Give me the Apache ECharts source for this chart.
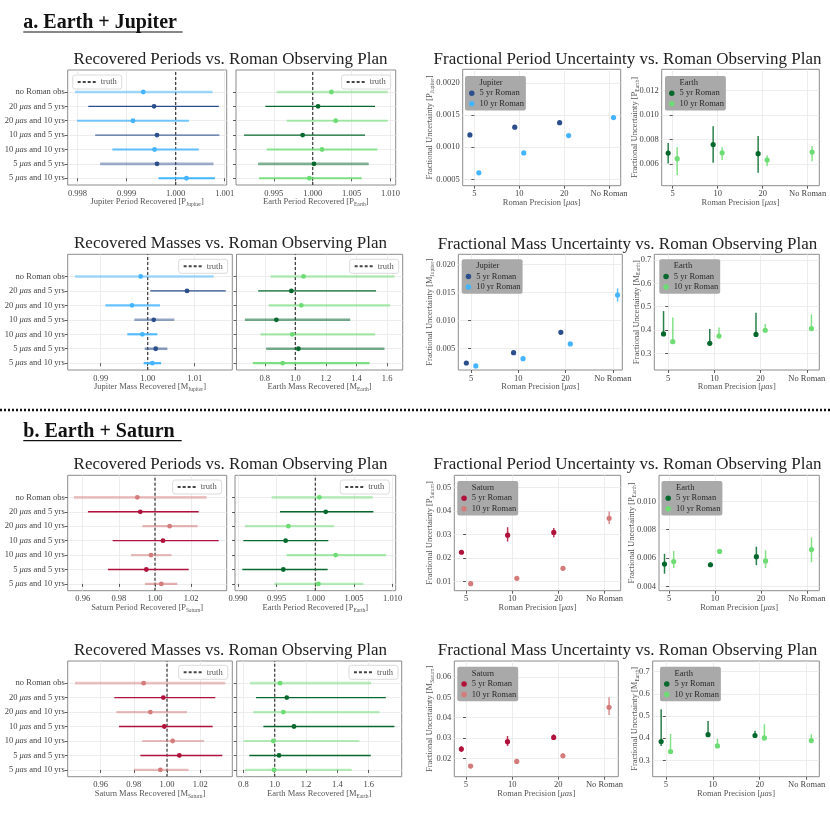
<!DOCTYPE html>
<html><head><meta charset="utf-8">
<script src="https://cdn.jsdelivr.net/npm/echarts@6/dist/echarts.min.js"></script>
<style>html,body{margin:0;padding:0;background:#fff}#c{width:830px;height:830px}</style>
</head><body><div id="c"></div>
<script>
// ---------------- DATA ----------------
const rowLabels = ['5 μas and 10 yrs','5 μas and 5 yrs','10 μas and 10 yrs','10 μas and 5 yrs','20 μas and 10 yrs','20 μas and 5 yrs','no Roman obs'];
const rowIndex = [0,1,2,3,4,5,6];
const precisionLabels = ['5','10','20','No Roman'];
const precIdx5 = [0,1,2];
const precIdx10 = [0,1,2,3];
const truthValue = 1;

// Recovered values (rows bottom -> top, same order as rowLabels)
const jupPeriodLo  = [0.99965, 0.99846, 0.99871, 0.99836, 0.99799, 0.99822, 0.99795];
const jupPeriodMid = [1.00022, 0.99962, 0.99957, 0.99962, 0.99913, 0.99956, 0.99934];
const jupPeriodHi  = [1.00080, 1.00077, 1.00047, 1.00089, 1.00027, 1.00088, 1.00075];

const earthPeriodALo  = [0.99310, 0.99297, 0.99409, 0.99117, 0.99666, 0.99391, 0.99537];
const earthPeriodAMid = [0.99957, 1.00017, 1.00120, 0.99871, 1.00296, 1.00069, 1.00240];
const earthPeriodAHi  = [1.00630, 1.00720, 1.00831, 1.00673, 1.00964, 1.00801, 1.00964];

const jupMassLo  = [0.99915, 0.99936, 0.99567, 0.99716, 0.99100, 1.00057, 0.98454];
const jupMassMid = [1.00099, 1.00170, 0.99887, 1.00128, 0.99667, 1.00837, 0.99851];
const jupMassHi  = [1.00284, 1.00418, 1.00206, 1.00567, 1.00262, 1.01660, 1.01404];

const earthMassALo  = [0.722, 0.809, 0.772, 0.670, 0.826, 0.757, 0.837];
const earthMassAMid = [0.917, 1.020, 0.980, 0.876, 1.039, 0.974, 1.054];
const earthMassAHi  = [1.485, 1.583, 1.522, 1.359, 1.620, 1.528, 1.648];

const satPeriodLo  = [0.99446, 0.97397, 0.98671, 0.97656, 0.99299, 0.96289, 0.95514];
const satPeriodMid = [1.00351, 0.99520, 0.99778, 1.00443, 1.00812, 0.99188, 0.99022];
const satPeriodHi  = [1.01237, 1.01865, 1.00923, 1.03526, 1.02363, 1.02418, 1.02861];

const earthPeriodBLo  = [0.99470, 0.99056, 0.99629, 0.99069, 0.99091, 0.99543, 0.99435];
const earthPeriodBMid = [1.00039, 0.99586, 1.00263, 0.99616, 0.99651, 1.00134, 1.00052];
const earthPeriodBHi  = [1.00621, 1.00159, 1.00914, 1.00168, 1.00241, 1.00750, 1.00741];

const satMassLo  = [0.98013, 0.98395, 0.98515, 0.97110, 0.96950, 0.96829, 0.94461];
const satMassMid = [0.99599, 1.00743, 1.00341, 0.99839, 0.98997, 0.99779, 0.98595];
const satMassHi  = [1.01304, 1.03331, 1.02228, 1.02749, 1.01204, 1.02910, 1.03512];

const earthMassBLo  = [0.809, 0.838, 0.802, 0.928, 0.862, 0.881, 0.843];
const earthMassBMid = [0.996, 1.028, 0.991, 1.123, 1.055, 1.077, 1.034];
const earthMassBHi  = [1.491, 1.613, 1.540, 1.764, 1.668, 1.709, 1.615];

// Fractional uncertainties (5 yr: 5,10,20 μas ; 10 yr: 5,10,20,No Roman)
const jupFracP5 = [0.00119, 0.00131, 0.00138];
const jupFracP5Lo = [0.00118, 0.00130, 0.00137];
const jupFracP5Hi = [0.00120, 0.00132, 0.00139];
const jupFracP10 = [0.00060, 0.00091, 0.00118, 0.00146];
const jupFracP10Lo = [0.00059, 0.00090, 0.00117, 0.00144];
const jupFracP10Hi = [0.00061, 0.00092, 0.00119, 0.00148];

const earthFracPA5 = [0.00690, 0.00759, 0.00685];
const earthFracPA5Lo = [0.00605, 0.00611, 0.00529];
const earthFracPA5Hi = [0.00772, 0.00909, 0.00829];
const earthFracPA10 = [0.00644, 0.00692, 0.00633, 0.00698];
const earthFracPA10Lo = [0.00510, 0.00633, 0.00584, 0.00622];
const earthFracPA10Hi = [0.00737, 0.00737, 0.00671, 0.00747];

const jupFracM5 = [0.00238, 0.00423, 0.00786];
const jupFracM5Lo = [0.00228, 0.00413, 0.00774];
const jupFracM5Hi = [0.00248, 0.00433, 0.00798];
const jupFracM10 = [0.00185, 0.00316, 0.00578, 0.01452];
const jupFracM10Lo = [0.00178, 0.00308, 0.00568, 0.01333];
const jupFracM10Hi = [0.00192, 0.00324, 0.00588, 0.01571];

const earthFracMA5 = [0.383, 0.343, 0.381];
const earthFracMA5Lo = [0.378, 0.340, 0.371];
const earthFracMA5Hi = [0.481, 0.404, 0.474];
const earthFracMA10 = [0.350, 0.374, 0.399, 0.406];
const earthFracMA10Lo = [0.348, 0.367, 0.390, 0.404];
const earthFracMA10Hi = [0.453, 0.411, 0.426, 0.467];

const satFracP5 = [0.02242, 0.02972, 0.03090];
const satFracP5Lo = [0.02210, 0.02700, 0.02880];
const satFracP5Hi = [0.02270, 0.03310, 0.03280];
const satFracP10 = [0.00900, 0.01130, 0.01555, 0.03690];
const satFracP10Lo = [0.00890, 0.01120, 0.01540, 0.03450];
const satFracP10Hi = [0.00910, 0.01140, 0.01570, 0.03980];

const earthFracPB5 = [0.00558, 0.00553, 0.00610];
const earthFracPB5Lo = [0.00490, 0.00540, 0.00550];
const earthFracPB5Hi = [0.00630, 0.00570, 0.00680];
const earthFracPB10 = [0.00576, 0.00647, 0.00580, 0.00660];
const earthFracPB10Lo = [0.00530, 0.00630, 0.00530, 0.00570];
const earthFracPB10Hi = [0.00650, 0.00660, 0.00655, 0.00745];

const satFracM5 = [0.02459, 0.02820, 0.03030];
const satFracM5Lo = [0.02310, 0.02610, 0.02900];
const satFracM5Hi = [0.02610, 0.03100, 0.03180];
const satFracM10 = [0.01620, 0.01850, 0.02130, 0.04510];
const satFracM10Lo = [0.01580, 0.01740, 0.02020, 0.04130];
const satFracM10Hi = [0.01660, 0.01970, 0.02250, 0.05000];

const earthFracMB5 = [0.385, 0.416, 0.412];
const earthFracMB5Lo = [0.365, 0.410, 0.405];
const earthFracMB5Hi = [0.530, 0.478, 0.433];
const earthFracMB10 = [0.340, 0.365, 0.401, 0.389];
const earthFracMB10Lo = [0.338, 0.360, 0.398, 0.386];
const earthFracMB10Hi = [0.419, 0.397, 0.463, 0.418];

// tick label values
const ticksJupP = [0.998, 0.999, 1.000, 1.001];
const ticksEarthP = [0.995, 1.000, 1.005, 1.010];
const ticksJupM = [0.99, 1.00, 1.01];
const ticksEarthM = [0.8, 1.0, 1.2, 1.4, 1.6];
const ticksSatP = [0.96, 0.98, 1.00, 1.02];
const ticksEarthPB = [0.990, 0.995, 1.000, 1.005, 1.010];
const ticksSatM = [0.96, 0.98, 1.00, 1.02];
const ticksFJupP = [0.0005, 0.0010, 0.0015, 0.0020];
const ticksFEarthPA = [0.006, 0.008, 0.010, 0.012];
const ticksFJupM = [0.005, 0.010, 0.015, 0.020];
const ticksFEarthM = [0.3, 0.4, 0.5, 0.6, 0.7];
const ticksFSatP = [0.01, 0.02, 0.03, 0.04, 0.05];
const ticksFEarthPB = [0.004, 0.006, 0.008, 0.010];
const ticksFSatM = [0.02, 0.03, 0.04, 0.05, 0.06];

// ---------------- STYLE ----------------
const FONT = '"Liberation Serif", "Times New Roman", serif';
const COLORS = {
  Jupiter: {dark: '#2b4e8c', light: '#45b4ff'},
  Earth:   {dark: '#06682c', light: '#6edc74'},
  Saturn:  {dark: '#b0123c', light: '#d47c7c'}
};
const FRAME = '#8c8c8c', GRIDC = '#e8e8e8', TICKC = '#333', LABC = '#444', NAMEC = '#555', TRUTHC = '#444';
const rowIsFive = [false, true, false, true, false, true, false];
const OFF5 = -0.1, OFF10 = 0.1;
const Y_MIN = -0.47, Y_MAX = 7.53;

function richName(){
  return {
    a: {fontSize: 8.5, fontFamily: FONT, color: NAMEC, lineHeight: 11},
    s: {fontSize: 5.5, fontFamily: FONT, color: NAMEC, lineHeight: 6, verticalAlign: 'bottom'},
    i: {fontSize: 8.5, fontFamily: FONT, color: NAMEC, fontStyle: 'italic', lineHeight: 11}
  };
}
const labelRich = {
  n: {fontSize: 8.5, fontFamily: FONT, color: LABC},
  i: {fontSize: 8.5, fontFamily: FONT, color: LABC, fontStyle: 'italic'}
};
function rowLabelFmt(v){
  const s = rowLabels[Math.round(v)];
  if (!s) return '';
  return '{n|' + s.replace('μas', '}{i|μas}{n|') + '}';
}

const grids = [], xAxes = [], yAxes = [], series = [], legends = [];

function gridOf(g){
  return {left: g[0], top: g[1], width: g[2], height: g[3], show: true, borderColor: FRAME, borderWidth: 1,
          backgroundColor: 'transparent', containLabel: false};
}

function addHPanel(p){
  const gi = grids.length;
  const c = COLORS[p.planet];
  grids.push(gridOf(p.g));
  xAxes.push({
    type: 'value', gridIndex: gi, min: p.xr[0], max: p.xr[1], minInterval: p.step, maxInterval: p.step,
    axisLine: {show: false},
    axisTick: {show: true, length: 3, customValues: p.ticks, lineStyle: {color: TICKC, width: 0.8}},
    axisLabel: {customValues: p.ticks, formatter: v => v.toFixed(p.dec), fontSize: 8.5, color: LABC, margin: 4, fontFamily: FONT},
    splitLine: {show: true, lineStyle: {color: GRIDC, width: 0.8}},
    name: '{a|' + p.xname + ' [' + p.sym + '}{s|' + p.planet + '}{a|]}',
    nameLocation: 'middle', nameGap: 11.5, nameMoveOverlap: false, nameTextStyle: {rich: richName()}
  });
  yAxes.push({
    type: 'value', gridIndex: gi, min: Y_MIN, max: Y_MAX, minInterval: 1, maxInterval: 1,
    axisLine: {show: false},
    axisTick: {show: true, length: 3, customValues: rowIndex, lineStyle: {color: TICKC, width: 0.8}},
    axisLabel: {show: p.showY, customValues: rowIndex, formatter: rowLabelFmt, rich: labelRich,
                fontSize: 8.5, color: LABC, margin: 3, fontFamily: FONT},
    splitLine: {show: true, lineStyle: {color: GRIDC, width: 0.8}}
  });
  const alpha = p.alpha;
  series.push({
    type: 'custom', xAxisIndex: gi, yAxisIndex: gi, z: 3, encode: {x: [0, 1, 2], y: 3},
    data: rowIndex.map(r => [p.lo[r], p.mid[r], p.hi[r], r]),
    renderItem: function(params, api){
      const r = api.value(3);
      const five = rowIsFive[r];
      const color = five ? c.dark : c.light;
      const a = alpha[r];
      const w = five ? (a < 0.7 ? 2.6 : 1.4) : (r === 6 ? 2.6 : 2.2);
      const p0 = api.coord([api.value(0), r]);
      const p1 = api.coord([api.value(2), r]);
      const pm = api.coord([api.value(1), r]);
      return {type: 'group', children: [
        {type: 'line', shape: {x1: p0[0], y1: p0[1], x2: p1[0], y2: p1[1]}, style: {stroke: color, lineWidth: w, opacity: a}},
        {type: 'circle', shape: {cx: pm[0], cy: pm[1], r: 2.4}, style: {fill: color}}
      ]};
    }
  });
  series.push({
    type: 'line', name: 'truth', xAxisIndex: gi, yAxisIndex: gi, z: 2, symbol: 'none',
    data: [[truthValue, Y_MIN], [truthValue, Y_MAX]],
    lineStyle: {type: [3, 2], color: TRUTHC, width: 1.3}, itemStyle: {opacity: 0}, silent: true
  });
  const lg = {
    orient: 'horizontal', top: p.leg[1], data: [{name: 'truth', itemStyle: {opacity: 0}}],
    itemWidth: 18, itemHeight: 8, padding: [2, 5, 2, 4], backgroundColor: '#fff', borderColor: '#d2d2d2',
    borderWidth: 0.8, borderRadius: 2.5, selectedMode: false,
    textStyle: {fontSize: 8.5, color: NAMEC, fontFamily: FONT, lineHeight: 10}
  };
  if (p.legLeft) lg.left = p.leg[0]; else lg.right = 830 - p.leg[0];
  legends.push(lg);
}

function addFPanel(p){
  const gi = grids.length;
  const c = COLORS[p.planet];
  grids.push(gridOf(p.g));
  xAxes.push({
    type: 'value', gridIndex: gi, min: p.xr[0], max: p.xr[1], minInterval: 1, maxInterval: 1,
    axisLine: {show: false},
    axisTick: {show: true, length: 3, customValues: precIdx10, lineStyle: {color: TICKC, width: 0.8}},
    axisLabel: {customValues: precIdx10, formatter: v => precisionLabels[Math.round(v)] || '', fontSize: 8.5, color: LABC, margin: 4, fontFamily: FONT},
    splitLine: {show: true, lineStyle: {color: GRIDC, width: 0.8}},
    name: '{a|Roman Precision [}{i|μas}{a|]}', nameLocation: 'middle', nameGap: 11.5, nameMoveOverlap: false,
    nameTextStyle: {rich: richName()}
  });
  yAxes.push({
    type: 'value', gridIndex: gi, min: p.yr[0], max: p.yr[1], minInterval: p.step, maxInterval: p.step,
    axisLine: {show: false},
    axisTick: {show: true, length: 3, customValues: p.ticks, lineStyle: {color: TICKC, width: 0.8}},
    axisLabel: {customValues: p.ticks, formatter: v => v.toFixed(p.dec), fontSize: 8.5, color: LABC, margin: 3, fontFamily: FONT},
    splitLine: {show: true, lineStyle: {color: GRIDC, width: 0.8}},
    name: '{a|Fractional Uncertainty [' + p.sym + '}{s|' + p.planet + '}{a|]}',
    nameLocation: 'middle', nameGap: p.ngap, nameMoveOverlap: false, nameTextStyle: {rich: richName()}
  });
  function mk(name, color, idx, off, v, lo, hi, barA){
    series.push({
      type: 'custom', name: name, xAxisIndex: gi, yAxisIndex: gi, z: 3, encode: {x: 0, y: [1, 2, 3]},
      itemStyle: {color: color},
      data: idx.map((k, j) => [k + off, v[j], lo[j], hi[j]]),
      renderItem: function(params, api){
        const x = api.value(0);
        const pv = api.coord([x, api.value(1)]);
        const pl = api.coord([x, api.value(2)]);
        const ph = api.coord([x, api.value(3)]);
        return {type: 'group', children: [
          {type: 'line', shape: {x1: pl[0], y1: pl[1], x2: ph[0], y2: ph[1]}, style: {stroke: color, lineWidth: 1.5, opacity: barA}},
          {type: 'circle', shape: {cx: pv[0], cy: pv[1], r: 2.6}, style: {fill: color}}
        ]};
      }
    });
  }
  mk('5 yr Roman', c.dark, precIdx5, OFF5, p.v5, p.lo5, p.hi5, 0.85);
  mk('10 yr Roman', c.light, precIdx10, OFF10, p.v10, p.lo10, p.hi10, 0.85);
  series.push({type: 'custom', name: p.planet, xAxisIndex: gi, yAxisIndex: gi, data: [], renderItem: () => null});
  legends.push({
    orient: 'vertical', left: p.leg[0], top: p.leg[1],
    data: [{name: p.planet, icon: 'none'},
           {name: '5 yr Roman', icon: 'circle', itemStyle: {color: c.dark}},
           {name: '10 yr Roman', icon: 'circle', itemStyle: {color: c.light}}],
    itemWidth: 5.5, itemHeight: 5.5, itemGap: 1, padding: [2, 2, 2, 4], backgroundColor: '#a9a9a9',
    borderRadius: 2, selectedMode: false,
    textStyle: {fontSize: 8.5, color: '#2a2a2a', fontFamily: FONT, lineHeight: 9.5}
  });
}

// ---------------- PANELS ----------------
addHPanel({g: [67.7, 70, 159, 115], planet: 'Jupiter', sym: 'P', xname: 'Jupiter Period Recovered', lo: jupPeriodLo, mid: jupPeriodMid, hi: jupPeriodHi,
  xr: [0.9978, 1.00104], step: 0.001, dec: 3, ticks: ticksJupP, showY: true, leg: [72.7, 75], legLeft: true, alpha: [1, 0.45, 0.85, 0.85, 0.75, 1, 0.5]});
addHPanel({g: [236, 70, 159.7, 115], planet: 'Earth', sym: 'P', xname: 'Earth Period Recovered', lo: earthPeriodALo, mid: earthPeriodAMid, hi: earthPeriodAHi,
  xr: [0.99014, 1.01067], step: 0.005, dec: 3, ticks: ticksEarthP, showY: false, leg: [390.7, 75], alpha: [0.9, 0.5, 0.8, 1, 0.6, 1, 0.5]});
addFPanel({g: [462.7, 69.3, 158, 116.4], planet: 'Jupiter', sym: 'P', xr: [-0.26, 3.26], yr: [0.0004, 0.00221], step: 0.0005, dec: 4, ticks: ticksFJupP, ngap: 27.5, leg: [465, 76],
  v5: jupFracP5, lo5: jupFracP5Lo, hi5: jupFracP5Hi, v10: jupFracP10, lo10: jupFracP10Lo, hi10: jupFracP10Hi});
addFPanel({g: [661.7, 69.3, 157.6, 116.4], planet: 'Earth', sym: 'P', xr: [-0.244, 3.26], yr: [0.00423, 0.01375], step: 0.002, dec: 3, ticks: ticksFEarthPA, ngap: 21.5, leg: [665, 76],
  v5: earthFracPA5, lo5: earthFracPA5Lo, hi5: earthFracPA5Hi, v10: earthFracPA10, lo10: earthFracPA10Lo, hi10: earthFracPA10Hi});

addHPanel({g: [67.7, 254.3, 164.6, 115.7], planet: 'Jupiter', sym: 'M', xname: 'Jupiter Mass Recovered', lo: jupMassLo, mid: jupMassMid, hi: jupMassHi,
  xr: [0.98298, 1.0180], step: 0.01, dec: 2, ticks: ticksJupM, showY: true, leg: [227.7, 259.3], alpha: [1, 0.55, 0.9, 0.5, 0.8, 1, 0.5]});
addHPanel({g: [236.5, 254.3, 166.2, 115.7], planet: 'Earth', sym: 'M', xname: 'Earth Mass Recovered', lo: earthMassALo, mid: earthMassAMid, hi: earthMassAHi,
  xr: [0.6152, 1.7022], step: 0.2, dec: 1, ticks: ticksEarthM, showY: false, leg: [398.7, 259.3], alpha: [0.9, 0.55, 0.6, 0.55, 0.6, 1, 0.5]});
addFPanel({g: [458.3, 254.3, 164, 115.7], planet: 'Jupiter', sym: 'M', xr: [-0.27, 3.2], yr: [0.00113, 0.02179], step: 0.005, dec: 3, ticks: ticksFJupM, ngap: 23, leg: [461.7, 259.3],
  v5: jupFracM5, lo5: jupFracM5Lo, hi5: jupFracM5Hi, v10: jupFracM10, lo10: jupFracM10Lo, hi10: jupFracM10Hi});
addFPanel({g: [654.3, 254.3, 165, 115.7], planet: 'Earth', sym: 'M', xr: [-0.30, 3.27], yr: [0.2286, 0.7243], step: 0.1, dec: 1, ticks: ticksFEarthM, ngap: 12.5, leg: [659.3, 259.3],
  v5: earthFracMA5, lo5: earthFracMA5Lo, hi5: earthFracMA5Hi, v10: earthFracMA10, lo10: earthFracMA10Lo, hi10: earthFracMA10Hi});

addHPanel({g: [67.7, 475.3, 159, 115.4], planet: 'Saturn', sym: 'P', xname: 'Saturn Period Recovered', lo: satPeriodLo, mid: satPeriodMid, hi: satPeriodHi,
  xr: [0.95169, 1.03969], step: 0.02, dec: 2, ticks: ticksSatP, showY: true, leg: [221.7, 480], alpha: [0.6, 1, 0.5, 1, 0.55, 1, 0.45]});
addHPanel({g: [235, 475.3, 160.7, 115.4], planet: 'Earth', sym: 'P', xname: 'Earth Period Recovered', lo: earthPeriodBLo, mid: earthPeriodBMid, hi: earthPeriodBHi,
  xr: [0.98961, 1.01039], step: 0.005, dec: 3, ticks: ticksEarthPB, showY: false, leg: [389.3, 480], alpha: [0.5, 1, 0.6, 1, 0.5, 1, 0.45]});
addFPanel({g: [454.3, 475.3, 166.4, 115.4], planet: 'Saturn', sym: 'P', xr: [-0.255, 3.35], yr: [0.006, 0.05527], step: 0.01, dec: 2, ticks: ticksFSatP, ngap: 19, leg: [457.3, 481],
  v5: satFracP5, lo5: satFracP5Lo, hi5: satFracP5Hi, v10: satFracP10, lo10: satFracP10Lo, hi10: satFracP10Hi});
addFPanel({g: [659, 475.3, 160.3, 115.4], planet: 'Earth', sym: 'P', xr: [-0.22, 3.27], yr: [0.0037, 0.01184], step: 0.002, dec: 3, ticks: ticksFEarthPB, ngap: 21.5, leg: [661.5, 481],
  v5: earthFracPB5, lo5: earthFracPB5Lo, hi5: earthFracPB5Hi, v10: earthFracPB10, lo10: earthFracPB10Lo, hi10: earthFracPB10Hi});

addHPanel({g: [67.7, 661, 164.6, 115.7], planet: 'Saturn', sym: 'M', xname: 'Saturn Mass Recovered', lo: satMassLo, mid: satMassMid, hi: satMassHi,
  xr: [0.9402, 1.03933], step: 0.02, dec: 2, ticks: ticksSatM, showY: true, leg: [227.7, 665.3], alpha: [0.5, 1, 0.5, 1, 0.5, 1, 0.45]});
addHPanel({g: [236.7, 661, 165, 115.7], planet: 'Earth', sym: 'M', xname: 'Earth Mass Recovered', lo: earthMassBLo, mid: earthMassBMid, hi: earthMassBHi,
  xr: [0.7574, 1.8106], step: 0.2, dec: 1, ticks: ticksEarthM, showY: false, leg: [398, 665.3], alpha: [0.5, 1, 0.5, 1, 0.5, 1, 0.45]});
addFPanel({g: [454.3, 661, 164, 115.7], planet: 'Saturn', sym: 'M', xr: [-0.253, 3.3], yr: [0.011, 0.06787], step: 0.01, dec: 2, ticks: ticksFSatM, ngap: 19, leg: [457.3, 666.7],
  v5: satFracM5, lo5: satFracM5Lo, hi5: satFracM5Hi, v10: satFracM10, lo10: satFracM10Lo, hi10: satFracM10Hi});
addFPanel({g: [652.7, 661, 166.6, 115.7], planet: 'Earth', sym: 'M', xr: [-0.28, 3.27], yr: [0.2263, 0.748], step: 0.1, dec: 1, ticks: ticksFEarthM, ngap: 12.5, leg: [660, 666.7],
  v5: earthFracMB5, lo5: earthFracMB5Lo, hi5: earthFracMB5Hi, v10: earthFracMB10, lo10: earthFracMB10Lo, hi10: earthFracMB10Hi});

// ---------------- TEXT / DECORATION ----------------
const ctx = document.createElement('canvas').getContext('2d');
function fitSize(text, weight, target){
  ctx.font = weight + ' 100px ' + FONT;
  return 100 * target / ctx.measureText(text).width;
}
const titleSize = Math.min(18, fitSize('Fractional Period Uncertainty vs. Roman Observing Plan', 'normal', 388));
const headSize = Math.min(20, fitSize('a. Earth + Jupiter', 'bold', 159));

function titleEl(text, x, y){
  return {type: 'text', x: x, y: y, silent: true,
    style: {text: text, font: titleSize.toFixed(2) + 'px ' + FONT, fill: '#222', align: 'center', verticalAlign: 'middle',
            textAlign: 'center', textVerticalAlign: 'middle'}};
}
function headEl(text, x, y){
  return {type: 'text', x: x, y: y, silent: true,
    style: {text: text, font: 'bold ' + headSize.toFixed(2) + 'px ' + FONT, fill: '#111', align: 'left', verticalAlign: 'middle',
            textAlign: 'left', textVerticalAlign: 'middle'}};
}
function hline(x1, x2, y, w, dash){
  return {type: 'line', silent: true, shape: {x1: x1, y1: y, x2: x2, y2: y},
    style: {stroke: '#111', lineWidth: w, lineDash: dash || null}};
}

const graphics = [
  headEl('a. Earth + Jupiter', 23.3, 23), hline(23.3, 182.7, 32, 1.2),
  headEl('b. Earth + Saturn', 23.3, 431.5), hline(23.3, 181.7, 440.7, 1.2),
  hline(0, 830, 410, 2.4, [2, 2]),
  titleEl('Recovered Periods vs. Roman Observing Plan', 230.5, 60),
  titleEl('Fractional Period Uncertainty vs. Roman Observing Plan', 627.5, 60),
  titleEl('Recovered Masses vs. Roman Observing Plan', 230.5, 244),
  titleEl('Fractional Mass Uncertainty vs. Roman Observing Plan', 627.5, 245),
  titleEl('Recovered Periods vs. Roman Observing Plan', 230.5, 465),
  titleEl('Fractional Period Uncertainty vs. Roman Observing Plan', 627.5, 465),
  titleEl('Recovered Masses vs. Roman Observing Plan', 230.5, 651),
  titleEl('Fractional Mass Uncertainty vs. Roman Observing Plan', 627.5, 651)
];

const chart = echarts.init(document.getElementById('c'), null, {renderer: 'canvas'});
chart.setOption({
  animation: false,
  backgroundColor: '#fff',
  textStyle: {fontFamily: FONT},
  grid: grids, xAxis: xAxes, yAxis: yAxes, series: series, legend: legends,
  graphic: {elements: graphics}
});
</script></body></html>
